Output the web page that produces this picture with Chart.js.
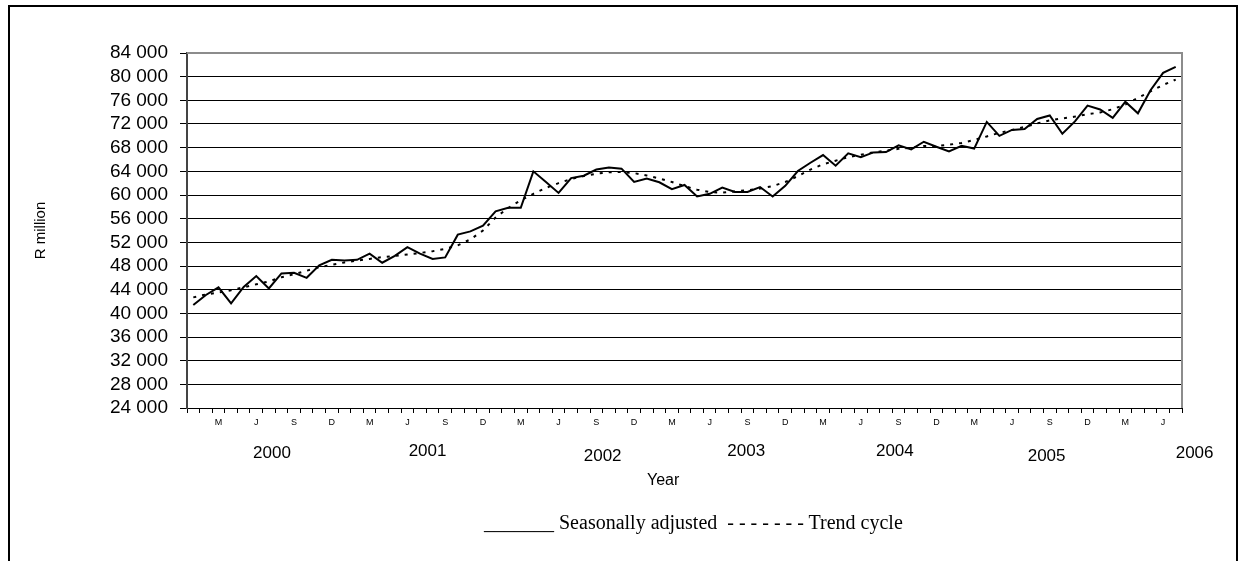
<!DOCTYPE html>
<html lang="en">
<head>
    <meta charset="UTF-8">
    <title>Seasonally adjusted and trend cycle</title>
    <script src="https://cdn.jsdelivr.net/npm/chart.js"></script>
    <style>
        body {
            margin: 0;
            background: #fff;
        }
        .frame {
            position: absolute;
            left: 8px;
            top: 5px;
            width: 1230px;
            height: 600px;
            border: 2px solid #000;
            box-sizing: border-box;
        }
        canvas {
            position: absolute;
            left: 0;
            top: 0;
        }
        .legend {
            position: absolute;
            left: 484px;
            top: 511px;
            font-family: "Liberation Serif", "Times New Roman", serif;
            font-size: 20px;
            white-space: pre;
            color: #000;
        }
    </style>
</head>
<body>
    <div class="frame"></div>
    <canvas id="salesChart" width="1247" height="561"></canvas>
    <div class="legend">_______ Seasonally adjusted  - - - - - - - Trend cycle</div>

    <script>
        // months Jan 2000 .. Jul 2006
        const monthLetters = ['J', 'F', 'M', 'A', 'M', 'J', 'J', 'A', 'S', 'O', 'N', 'D'];
        const years = ['2000', '2001', '2002', '2003', '2004', '2005', '2006'];
        const monthCount = 79;

        const seasonallyAdjusted = [
            41400, 43100, 44400, 41700, 44450, 46300, 44200, 46750, 46850, 46000, 48100, 49050,
            48950, 49050, 50100, 48550, 49700, 51200, 50100, 49200, 49450, 53300, 53850, 54800,
            57250, 57850, 57850, 64000, 62200, 60350, 62850, 63250, 64300, 64650, 64450, 62200,
            62800, 62150, 61000, 61700, 59750, 60200, 61250, 60500, 60500, 61350, 59750, 61550,
            64050, 65450, 66750, 64950, 67050, 66400, 67200, 67250, 68400, 67700, 69000, 68150,
            67350, 68300, 67850, 72350, 70000, 71000, 71150, 72850, 73450, 70350, 72450, 75100,
            74450, 73050, 75750, 73800, 77700, 80650, 81650
        ];

        const trendCycle = [
            42700, 43200, 43500, 43900, 44400, 44900, 45400, 46100, 46600, 47200, 47800, 48200,
            48600, 48900, 49200, 49500, 49700, 49950, 50200, 50500, 50900, 51500, 52500, 54000,
            56200, 57800, 59100, 60200, 61200, 62000, 62700, 63200, 63600, 63850, 63900, 63700,
            63300, 62800, 62200, 61500, 60900, 60500, 60400, 60600, 60800, 61100, 61500, 62200,
            63200, 64300, 65200, 65800, 66400, 66800, 67200, 67500, 67800, 68000, 68300, 68300,
            68500, 68800, 69300, 69900, 70500, 71000, 71500, 72100, 72600, 72950, 73250, 73650,
            73950, 74500, 75300, 76400, 77500, 78600, 79500
        ];

        const yTicks = { min: 24000, max: 84000, step: 4000 };

        const categories = [];
        for (let i = 0; i < monthCount; i++) {
            categories.push(monthLetters[i % 12]);
        }

        function formatThousands(v) {
            return String(v).replace(/\B(?=(\d{3})+(?!\d))/g, ' ');
        }

        // year labels under the month letters, "Year" caption and the plot frame
        const extrasPlugin = {
            id: 'extras',
            afterDraw(chart) {
                const ctx = chart.ctx;
                const area = chart.chartArea;
                const xs = chart.scales.x;

                ctx.save();
                ctx.strokeStyle = '#8c8c8c';
                ctx.lineWidth = 2;
                ctx.beginPath();
                ctx.moveTo(area.left, area.top);
                ctx.lineTo(area.right, area.top);
                ctx.lineTo(area.right, area.bottom);
                ctx.stroke();

                ctx.fillStyle = '#000';
                ctx.textAlign = 'center';
                ctx.textBaseline = 'middle';
                ctx.font = '17px "Liberation Sans", Arial, sans-serif';
                const spots = [[6.25, 453], [18.6, 451], [32.5, 456], [43.9, 451], [55.7, 451], [67.75, 456], [79.5, 453]];
                years.forEach((label, i) => {
                    ctx.fillText(label, xs.getPixelForValue(spots[i][0]), spots[i][1]);
                });

                ctx.font = '16px "Liberation Sans", Arial, sans-serif';
                ctx.fillText('Year', xs.getPixelForValue(37.3), 481);
                ctx.restore();
            }
        };

        const ctx = document.getElementById('salesChart').getContext('2d');
        new Chart(ctx, {
            type: 'line',
            data: {
                labels: categories,
                datasets: [{
                    label: 'Seasonally adjusted',
                    data: seasonallyAdjusted,
                    borderColor: '#000',
                    borderWidth: 2,
                    pointRadius: 0,
                    tension: 0,
                    fill: false
                }, {
                    label: 'Trend cycle',
                    data: trendCycle,
                    borderColor: '#000',
                    borderWidth: 2,
                    borderDash: [3, 6],
                    pointRadius: 0,
                    tension: 0,
                    fill: false
                }]
            },
            options: {
                responsive: false,
                animation: false,
                layout: {
                    padding: { top: 53, right: 65, bottom: 0, left: 0 }
                },
                plugins: {
                    legend: { display: false },
                    tooltip: { enabled: false }
                },
                scales: {
                    x: {
                        type: 'category',
                        offset: true,
                        afterFit(scale) { scale.height = 153; },
                        grid: {
                            offset: true,
                            drawOnChartArea: false,
                            color: '#000',
                            tickLength: 5
                        },
                        border: { display: true, color: '#000', width: 1 },
                        ticks: {
                            autoSkip: false,
                            maxRotation: 0,
                            minRotation: 0,
                            padding: 4,
                            color: '#000',
                            font: { family: '"Liberation Sans", Arial, sans-serif', size: 9 },
                            callback: function (value, index) {
                                return index % 3 === 2 ? categories[index] : '';
                            }
                        }
                    },
                    y: {
                        min: yTicks.min,
                        max: yTicks.max,
                        afterFit(scale) { scale.width = 187; },
                        grid: {
                            color: '#000',
                            lineWidth: 1,
                            tickLength: 7
                        },
                        border: { display: true, color: '#444', width: 2 },
                        ticks: {
                            stepSize: yTicks.step,
                            autoSkip: false,
                            padding: 12,
                            color: '#000',
                            font: { family: '"Liberation Sans", Arial, sans-serif', size: 19 },
                            callback: v => formatThousands(v)
                        },
                        title: {
                            display: true,
                            text: 'R million',
                            color: '#000',
                            padding: { top: 32, bottom: 0 },
                            font: { family: '"Liberation Sans", Arial, sans-serif', size: 15 }
                        }
                    }
                }
            },
            plugins: [extrasPlugin]
        });
    </script>
</body>
</html>
